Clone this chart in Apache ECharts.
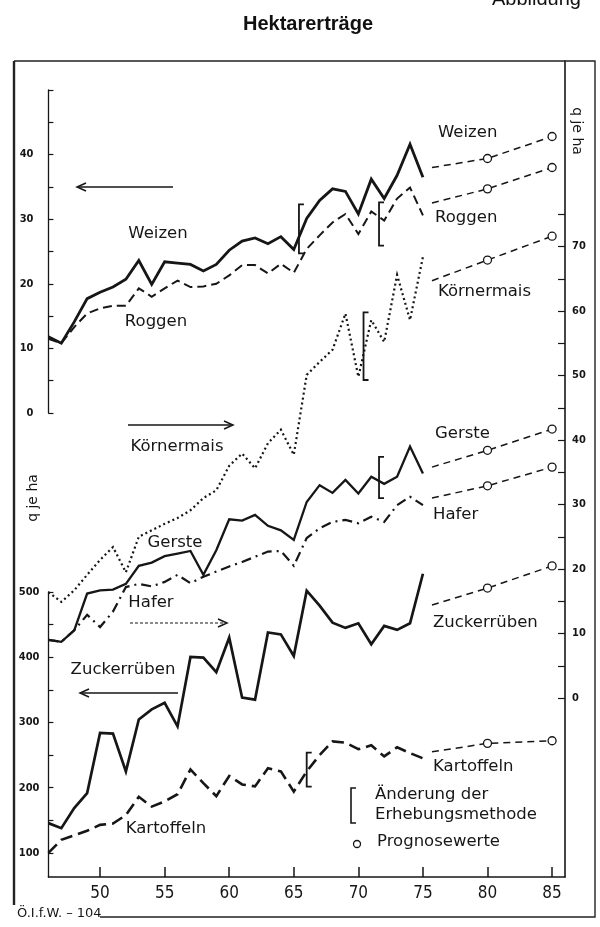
<!DOCTYPE html>
<html>
<head>
<meta charset="utf-8">
<script src="https://cdn.jsdelivr.net/npm/echarts@6/dist/echarts.min.js"></script>
<style>
html,body{margin:0;padding:0;background:#fff;}
#c{width:600px;height:927px;}
</style>
</head>
<body>
<div id="c"></div>
<script>
// ---- data (q je ha) ----
const years = [46,47,48,49,50,51,52,53,54,55,56,57,58,59,60,61,62,63,64,65,66,67,68,69,70,71,72,73,74,75];
// left upper axis
const weizen = [11.8,10.8,14.1,17.7,18.7,19.5,20.7,23.6,19.9,23.4,23.2,23.0,22.0,23.0,25.2,26.6,27.1,26.2,27.3,25.3,30.1,32.9,34.7,34.3,30.8,36.2,33.2,36.8,41.6,36.5];
const roggen = [11.5,10.8,13.3,15.4,16.2,16.6,16.6,19.3,18.0,19.3,20.5,19.5,19.6,20.0,21.3,22.9,22.9,21.6,23.1,21.7,25.4,27.5,29.5,30.8,27.7,31.2,29.8,33.2,34.9,30.6];
// right axis
const koernermais = [16.4,14.9,16.7,19.1,21.4,23.4,19.5,25.0,26.0,27.0,27.9,29.1,31.0,32.2,36.0,37.9,35.6,39.5,41.6,37.7,50.1,52.1,54.0,59.6,49.8,58.6,55.2,65.6,58.6,68.4];
const gerste = [9.0,8.7,10.5,16.2,16.7,16.8,17.7,20.5,21.0,22.0,22.4,22.8,19.1,22.9,27.7,27.5,28.4,26.7,26.0,24.5,30.4,33.0,31.8,33.8,31.7,34.3,33.2,34.3,39.0,34.8];
const hafer = [9.0,8.7,10.5,12.9,11.0,13.4,17.2,17.7,17.3,18.0,19.1,17.8,18.8,19.6,20.4,21.1,21.9,22.7,22.8,20.5,24.8,26.3,27.3,27.6,27.1,28.1,27.3,29.9,31.2,29.9];
// left lower axis
const zuckerrueben = [145.7,138,168.7,191.8,284,283,225,304.6,320,330,294,400.5,399.5,377,430,338,335,438,435,402,502,479,453,445,452,420,448,442,452,528];
const kartoffeln = [100,120,127,134,143,145,158,186,171,179,190,228,207,187,218,205,202,230,225,194,225,250,271,269,259,265,248,262,253,245];
// forecasts (Prognosewerte): start of dashed line, 1980, 1985
const forecastYears = [75.7, 80, 85];
const weizenPrognose = [38.0, 39.4, 42.8];
const roggenPrognose = [32.5, 34.7, 38.0];
const koernermaisPrognose = [64.7, 67.9, 71.6];
const gerstePrognose = [35.8, 38.4, 41.7];
const haferPrognose = [31.0, 32.9, 35.8];
const zuckerruebenPrognose = [480, 506, 540];
const kartoffelnPrognose = [255, 268, 272];
// Änderung der Erhebungsmethode: [year, from, to]
const bracketsUpperLeft = [[65.4, 24.7, 32.3], [71.6, 25.9, 32.6]];
const bracketsRight = [[70.4, 49.3, 59.8], [71.6, 31.0, 37.4]];
const bracketsLowerLeft = [[66.0, 201.5, 253.8]];
// ticks / labels
const xTicks = [50,55,60,65,70,75,80,85];
const rightTicks = [0,5,10,15,20,25,30,35,40,45,50,55,60,65,70,75];
const rightLabels = [0,10,20,30,40,50,60,70];
const lowerTicks = [100,150,200,250,300,350,400,450,500];
const lowerLabels = [100,200,300,400,500];

const INK = '#161616';
const zip = (arr) => years.map((y, i) => [y, arr[i]]);
const zipF = (arr) => forecastYears.map((y, i) => [y, arr[i]]);

const chart = echarts.init(document.getElementById('c'), null, {renderer: 'canvas'});

function lineSeries(name, data, ax, style) {
  return {
    name, type: 'line', xAxisIndex: ax, yAxisIndex: ax, data: zip(data),
    showSymbol: false, symbol: 'none', clip: false, silent: true, z: 3,
    lineStyle: Object.assign({color: INK, width: 2.2, cap: 'butt', join: 'miter'}, style)
  };
}
function forecastSeries(name, data, ax) {
  return {
    name: name + ' Prognose', type: 'line', xAxisIndex: ax, yAxisIndex: ax, data: zipF(data),
    symbol: (v, p) => (p.dataIndex === 0 ? 'none' : 'circle'),
    showSymbol: true, symbolSize: 8, clip: false, silent: true, z: 4,
    itemStyle: {color: '#fff', borderColor: INK, borderWidth: 1.3},
    lineStyle: {color: INK, width: 1.5, type: [7, 5]}
  };
}
function bracketSeries(data, ax) {
  return {
    type: 'custom', xAxisIndex: ax, yAxisIndex: ax, data: data, clip: false, silent: true, z: 5,
    encode: {x: 0, y: [1, 2]},
    renderItem: (params, api) => {
      const x = api.value(0);
      const p1 = api.coord([x, api.value(1)]);
      const p2 = api.coord([x, api.value(2)]);
      return {
        type: 'polyline',
        shape: {points: [[p1[0] + 5, p1[1]], [p1[0], p1[1]], [p2[0], p2[1]], [p2[0] + 5, p2[1]]]},
        style: {stroke: INK, lineWidth: 1.8, fill: null}
      };
    }
  };
}

const gridBase = {left: 48.4, width: 516.6, containLabel: false, outerBoundsMode: 'none'};
const axisFont = {fontFamily: 'DejaVu Sans Condensed, DejaVu Sans', fontWeight: 'bold', fontSize: 11, color: INK};

function txt(text, x, y, align, size) {
  return {type: 'text', x, y, silent: true, z: 10,
    style: {text, fill: INK, font: (size || 16.5) + 'px "DejaVu Sans"', textAlign: align || 'center', textVerticalAlign: 'middle'}};
}
function arrow(x1, x2, y, dashed) {
  const dir = x2 > x1 ? 1 : -1;
  return {type: 'group', silent: true, z: 10, children: [
    {type: 'line', shape: {x1, y1: y, x2: x2 - dir * 2, y2: y}, style: {stroke: INK, lineWidth: dashed ? 1.2 : 1.5, lineDash: dashed ? [3, 2] : null}},
    {type: 'polyline', shape: {points: [[x2 - dir * 9, y - 4], [x2, y], [x2 - dir * 9, y + 4]]}, style: {stroke: INK, lineWidth: 1.5, fill: null}}
  ]};
}

const option = {
  animation: false,
  backgroundColor: '#fff',
  grid: [
    Object.assign({top: 90, height: 323}, gridBase),
    Object.assign({top: 61, height: 816}, gridBase),
    Object.assign({top: 592, height: 285}, gridBase)
  ],
  xAxis: [
    {type: 'value', gridIndex: 0, min: 46, max: 86, show: false},
    {type: 'value', gridIndex: 1, min: 46, max: 86, show: false},
    {type: 'value', gridIndex: 2, min: 46, max: 86,
      axisLine: {show: true, onZero: false, lineStyle: {color: INK, width: 1.5}},
      axisTick: {show: true, inside: true, length: 10, customValues: xTicks, lineStyle: {color: INK, width: 1.5}},
      axisLabel: {show: true, customValues: xTicks, margin: 8,
        fontFamily: 'Liberation Sans Narrow, DejaVu Sans Condensed, sans-serif', fontSize: 17, color: INK},
      splitLine: {show: false}, minorTick: {show: false}}
  ],
  yAxis: [
    {type: 'value', gridIndex: 0, position: 'left', min: 0, max: 50, interval: 5,
      axisLine: {show: true, onZero: false, lineStyle: {color: INK, width: 1.3}},
      axisTick: {show: true, inside: true, length: 5, lineStyle: {color: INK, width: 1.2}},
      axisLabel: Object.assign({margin: 15, formatter: v => (v % 10 === 0 && v < 50 ? String(v) : '')}, axisFont),
      splitLine: {show: false}},
    {type: 'value', gridIndex: 1, position: 'right', min: -27.75, max: 98.76,
      axisLine: {show: true, onZero: false, lineStyle: {color: INK, width: 1.6}},
      axisTick: {show: true, inside: true, length: 7, customValues: rightTicks, lineStyle: {color: INK, width: 1.2}},
      axisLabel: Object.assign({margin: 7, customValues: rightLabels}, axisFont),
      splitLine: {show: false}},
    {type: 'value', gridIndex: 2, position: 'left', min: 63.1, max: 500,
      axisLine: {show: true, onZero: false, lineStyle: {color: INK, width: 1.3}},
      axisTick: {show: true, inside: true, length: 5, customValues: lowerTicks, lineStyle: {color: INK, width: 1.2}},
      axisLabel: Object.assign({margin: 9, customValues: lowerLabels}, axisFont),
      splitLine: {show: false}}
  ],
  series: [
    lineSeries('Weizen', weizen, 0, {width: 2.8}),
    lineSeries('Roggen', roggen, 0, {width: 2, type: [9, 5]}),
    forecastSeries('Weizen', weizenPrognose, 0),
    forecastSeries('Roggen', roggenPrognose, 0),
    bracketSeries(bracketsUpperLeft, 0),
    lineSeries('Körnermais', koernermais, 1, {width: 2.2, type: [2, 3]}),
    lineSeries('Gerste', gerste, 1, {width: 2.3}),
    lineSeries('Hafer', hafer, 1, {width: 2.2, type: [10, 5, 2, 5]}),
    forecastSeries('Körnermais', koernermaisPrognose, 1),
    forecastSeries('Gerste', gerstePrognose, 1),
    forecastSeries('Hafer', haferPrognose, 1),
    bracketSeries(bracketsRight, 1),
    lineSeries('Zuckerrüben', zuckerrueben, 2, {width: 2.7}),
    lineSeries('Kartoffeln', kartoffeln, 2, {width: 2.6, type: [12, 6]}),
    forecastSeries('Zuckerrüben', zuckerruebenPrognose, 2),
    forecastSeries('Kartoffeln', kartoffelnPrognose, 2),
    bracketSeries(bracketsLowerLeft, 2)
  ],
  graphic: [
    // frame
    {type: 'polyline', shape: {points: [[100, 917], [595, 917], [595, 61], [14, 61]]}, style: {stroke: '#222', lineWidth: 1.4, fill: null}, silent: true, z: 1},
    {type: 'line', shape: {x1: 14, y1: 61, x2: 14, y2: 905}, style: {stroke: '#222', lineWidth: 2.4}, silent: true, z: 1},
    // title
    {type: 'text', x: 308, y: 24, silent: true, style: {text: 'Hektarerträge', fill: '#111', font: 'bold 20px "Liberation Sans", Arial', textAlign: 'center', textVerticalAlign: 'middle'}},
    {type: 'text', x: 492, y: 9, silent: true, style: {text: 'Abbildung', fill: '#111', font: '20px "Liberation Sans", Arial', textAlign: 'left', textVerticalAlign: 'bottom'}},
    // unit labels
    {type: 'text', x: 33, y: 498, rotation: Math.PI / 2, silent: true, style: {text: 'q je ha', fill: INK, font: '14px "DejaVu Sans"', textAlign: 'center', textVerticalAlign: 'middle'}},
    {type: 'text', x: 577, y: 131, rotation: -Math.PI / 2, silent: true, style: {text: 'q je ha', fill: INK, font: '14px "DejaVu Sans"', textAlign: 'center', textVerticalAlign: 'middle'}},
    // left labels
    txt('Weizen', 158, 234), txt('Roggen', 156, 322), txt('Körnermais', 177, 447),
    txt('Gerste', 175, 543), txt('Hafer', 151, 603), txt('Zuckerrüben', 123, 670), txt('Kartoffeln', 166, 829),
    // right labels
    txt('Weizen', 438, 133, 'left'), txt('Roggen', 435, 218, 'left'), txt('Körnermais', 438, 292, 'left'),
    txt('Gerste', 435, 434, 'left'), txt('Hafer', 433, 515, 'left'), txt('Zuckerrüben', 433, 623, 'left'),
    txt('Kartoffeln', 433, 767, 'left'),
    // arrows
    arrow(173, 77, 187), arrow(128, 233, 425), arrow(130, 227, 623, true), arrow(178, 80, 693),
    // legend
    {type: 'polyline', shape: {points: [[356, 788], [351, 788], [351, 823], [356, 823]]}, style: {stroke: INK, lineWidth: 1.6, fill: null}, silent: true},
    txt('Änderung der', 375, 795, 'left'), txt('Erhebungsmethode', 375, 815, 'left'),
    {type: 'circle', shape: {cx: 357, cy: 844, r: 3.5}, style: {stroke: INK, lineWidth: 1.3, fill: '#fff'}, silent: true},
    txt('Prognosewerte', 377, 842, 'left'),
    // footer
    {type: 'text', x: 17, y: 914, silent: true, style: {text: 'Ö.I.f.W. – 104', fill: INK, font: '13px "DejaVu Sans"', textAlign: 'left', textVerticalAlign: 'middle'}}
  ]
};
chart.setOption(option);
</script>
</body>
</html>
